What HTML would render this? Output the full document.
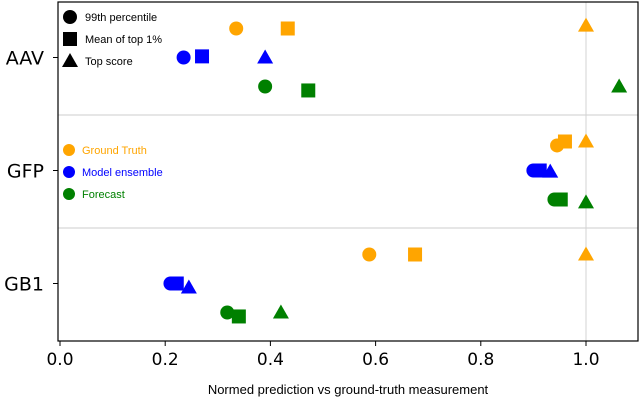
<!DOCTYPE html>
<html><head><meta charset="utf-8"><style>
html,body{margin:0;padding:0;background:#fff;}
svg{display:block;font-family:"DejaVu Sans","Liberation Sans",sans-serif;}
</style></head><body>
<svg id="chart" width="640" height="404" viewBox="0 0 640 404"></svg>
<script>
const categories = ["AAV","GFP","GB1"];
const seriesNames = ["Ground Truth","Model ensemble","Forecast"];
const seriesColors = ["#ffa500","#0000ff","#008000"];
const metricNames = ["99th percentile","Mean of top 1%","Top score"];
// values[category][series] = [99th percentile, mean top 1%, top score]
const aavValues = [[0.335,0.433,1.0],[0.235,0.27,0.39],[0.39,0.472,1.063]];
const gfpValues = [[0.945,0.96,1.0],[0.9,0.912,0.932],[0.94,0.952,1.0]];
const gb1Values = [[0.588,0.675,1.0],[0.21,0.222,0.245],[0.318,0.34,0.42]];
// vertical jitter per point in row units
const aavJitter = [[0,0,-0.05],[0,-0.02,0],[0,0.07,0]];
const gfpJitter = [[0.07,0,0],[0,0,0.02],[0,0,0.05]];
const gb1Jitter = [[0,0,0],[0,0,0.07],[0,0.07,0]];
const xTicks = [0.0,0.2,0.4,0.6,0.8,1.0];
const xTickLabels = ["0.0","0.2","0.4","0.6","0.8","1.0"];

const allValues=[aavValues,gfpValues,gb1Values];
const allJitter=[aavJitter,gfpJitter,gb1Jitter];
const L=58,R=638,T=2,B=341;
const x=v=>60+v*526;
const rowH=(B-T)/3;
const yRow=i=>T+rowH*(i+0.5)-1;
const NS="http://www.w3.org/2000/svg";
const svg=document.getElementById('chart');
function mk(tag,attrs,parent){const e=document.createElementNS(NS,tag);for(const k in attrs)e.setAttribute(k,attrs[k]);(parent||svg).appendChild(e);return e;}

for(let i=1;i<3;i++){
  const l=mk('line',{x1:L,x2:R,y1:T+rowH*i,y2:T+rowH*i,stroke:'#cccccc','stroke-width':1});
  
  
}
const vl=mk('line',{x1:x(1),x2:x(1),y1:T,y2:B,stroke:'#d3d3d3','stroke-width':1});



function marker(shape,cx,cy,color,parent){
  let e;
  if(shape===0) e=mk('circle',{cx:cx,cy:cy,r:7,fill:color},parent);
  else if(shape===1) e=mk('rect',{x:cx-7,y:cy-7,width:14,height:14,fill:color},parent);
  else e=mk('polygon',{points:`${cx},${cy-8} ${cx+8},${cy+6} ${cx-8},${cy+6}`,fill:color},parent);
  return e;
}

for(let c=0;c<3;c++){
  for(let s=0;s<3;s++){
    for(let m=0;m<3;m++){
      const cy=yRow(c)+(s-1)*29+allJitter[c][s][m]*rowH*0.5;
      const e=marker(m,x(allValues[c][s][m]),cy,seriesColors[s]);
      
      
    }
  }
  const t=mk('text',{x:44,y:yRow(c)+7,'font-size':19,'text-anchor':'end',fill:'#000'});
  t.textContent=categories[c];
  
  
  mk('line',{x1:L-5,x2:L,y1:yRow(c),y2:yRow(c),stroke:'#000','stroke-width':1});
}

const fr=mk('rect',{x:L,y:T,width:R-L,height:B-T,fill:'none',stroke:'#000','stroke-width':1.2});



xTicks.forEach((v,i)=>{
  mk('line',{x1:x(v),x2:x(v),y1:B,y2:B+5,stroke:'#000','stroke-width':1});
  const t=mk('text',{x:x(v),y:B+24,'font-size':17,'text-anchor':'middle',fill:'#000'});
  t.textContent=xTickLabels[i];
  
  
});
const xt=mk('text',{x:348,y:394,'font-size':13,'text-anchor':'middle',fill:'#000','font-family':'Liberation Sans, sans-serif'});
xt.textContent='Normed prediction vs ground-truth measurement';



const lg1=mk('g',{});


metricNames.forEach((n,i)=>{
  const cy=17+i*22;
  marker(i,70,cy,'#000',lg1);
  const t=mk('text',{x:85,y:cy+4,'font-size':11,fill:'#000','font-family':'Liberation Sans, sans-serif'},lg1);
  t.textContent=n;
  
  
});
const lg2=mk('g',{});


seriesNames.forEach((n,i)=>{
  const cy=150+i*22;
  mk('circle',{cx:69,cy:cy,r:6,fill:seriesColors[i]},lg2);
  const t=mk('text',{x:82,y:cy+4,'font-size':11,fill:seriesColors[i],'font-family':'Liberation Sans, sans-serif'},lg2);
  t.textContent=n;
  
  
});
</script>
</body></html>
